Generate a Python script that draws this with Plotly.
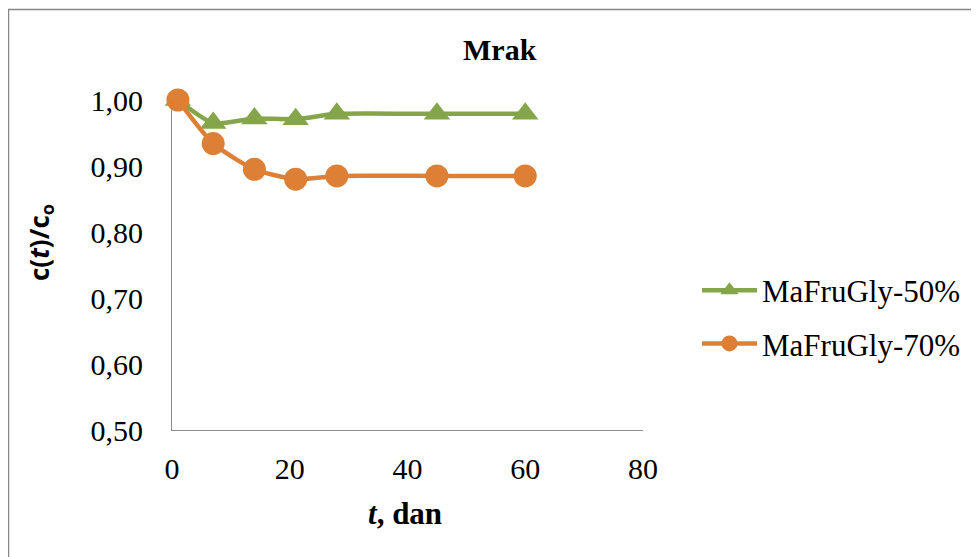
import plotly.graph_objects as go

days = [1, 7, 14, 21, 28, 45, 60]
mafrugly_50 = [1.000, 0.965, 0.972, 0.971, 0.979, 0.979, 0.979]
mafrugly_70 = [1.000, 0.934, 0.895, 0.880, 0.885, 0.885, 0.885]
series_names = ["MaFruGly-50%", "MaFruGly-70%"]
x_ticks = [0, 20, 40, 60, 80]
y_ticks = [0.5, 0.6, 0.7, 0.8, 0.9, 1.0]

GREEN = "#84A54A"
ORANGE = "#DD8036"
SERIF = "Liberation Serif, Times New Roman, serif"

OFF = 8  # page body margin
W, H = 979, 557
PL, PR, PT, PB = 172, 643, 100, 430  # plot area in page pixels
L, T = PL - OFF, PT - OFF
R, B = W - (PR - OFF), H - (PB - OFF)
pw, ph = PR - PL, PB - PT

fig = go.Figure()
fig.add_trace(go.Scatter(
    x=days, y=mafrugly_50, name=series_names[0], mode="lines+markers",
    legendgroup="a",
    line=dict(color=GREEN, width=4.5, shape="spline", smoothing=0.6),
    marker=dict(symbol="triangle-up", size=23, color=GREEN),
    cliponaxis=False,
))
fig.add_trace(go.Scatter(
    x=days, y=mafrugly_70, name=series_names[1], mode="lines+markers",
    legendgroup="b",
    line=dict(color=ORANGE, width=4.5, shape="spline", smoothing=0.6),
    marker=dict(symbol="circle", size=23, color=ORANGE),
    cliponaxis=False,
))

def px_x(p):
    return (p - PL) / pw

def px_y(p):
    return (PB - p) / ph

fig.update_layout(
    width=W, height=H,
    margin=dict(l=L, r=R, t=T, b=B),
    paper_bgcolor="white", plot_bgcolor="white",
    separators=", ",
    font=dict(family=SERIF, size=29, color="black"),
    showlegend=True,
    legend=dict(
        x=px_x(697), y=px_y(317), xanchor="left", yanchor="middle",
        font=dict(family=SERIF, size=31, color="black"),
        itemwidth=55, tracegroupgap=10, bgcolor="rgba(0,0,0,0)",
    ),
    annotations=[
        dict(text="<b>Mrak</b>", x=px_x(500), y=px_y(50), xref="paper", yref="paper",
             xanchor="center", yanchor="middle",
             showarrow=False, font=dict(family=SERIF, size=30, color="black")),
        dict(text="<b><i>t</i>, dan</b>", x=px_x(405), y=px_y(514), xref="paper", yref="paper",
             xanchor="center", yanchor="middle",
             showarrow=False, font=dict(family=SERIF, size=31, color="black")),
        dict(text="<b>c(<i>t</i>)/c<sub>o</sub></b>", x=px_x(40), y=px_y(243), xref="paper", yref="paper",
             xanchor="center", yanchor="middle",
             showarrow=False, textangle=-90,
             font=dict(family="Open Sans, Noto Sans, sans-serif", size=26, color="black")),
    ],
    shapes=[
        dict(type="rect", xref="paper", yref="paper",
             x0=px_x(8.5), x1=px_x(995), y0=px_y(580), y1=px_y(9.5),
             line=dict(color="#878787", width=1.5), fillcolor="rgba(0,0,0,0)", layer="below"),
    ],
)

fig.update_xaxes(
    range=[0, 80], tickvals=x_ticks, ticks="", showgrid=False, zeroline=False,
    showline=True, linecolor="#8C8C8C", linewidth=1.2,
    tickfont=dict(family=SERIF, size=30), ticklabelstandoff=12,
)
fig.update_yaxes(
    range=[0.5, 1.0], tickvals=y_ticks, tickformat=".2f", ticks="", showgrid=False,
    zeroline=False, showline=True, linecolor="#8C8C8C", linewidth=1.2,
    tickfont=dict(family=SERIF, size=30), ticklabelstandoff=22,
)

fig.write_html("out.html")
